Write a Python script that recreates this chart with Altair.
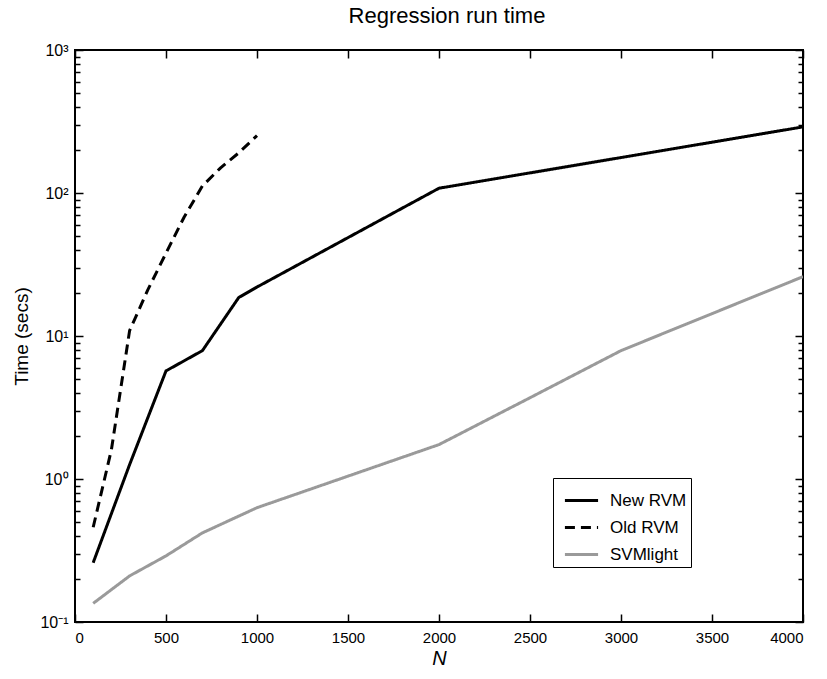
import altair as alt
import pandas as pd

# ---------------- data ----------------
series_names = ["New RVM", "Old RVM", "SVMlight"]

n_new = [100, 300, 500, 700, 900, 1000, 2000, 4000]
t_new = [0.26, 1.26, 5.7, 7.9, 18.6, 22, 108, 290]

n_old = [100, 200, 300, 400, 500, 600, 700, 800, 900, 1000]
t_old = [0.46, 1.6, 10.9, 21, 38, 68, 112, 150, 191, 252]

n_svm = [100, 300, 500, 700, 1000, 2000, 2500, 3000, 4000]
t_svm = [0.135, 0.21, 0.29, 0.42, 0.63, 1.74, 3.7, 7.9, 26]

x_ticks = [0, 500, 1000, 1500, 2000, 2500, 3000, 3500, 4000]
y_major = [0.1, 1, 10, 100, 1000]
y_major_labels = ["10⁻¹", "10⁰", "10¹", "10²", "10³"]
y_minor = [m * 10 ** k for k in range(-1, 3) for m in range(2, 10)]

# ---------------- table ----------------
rows = []
for name, ns, ts in zip(series_names, [n_new, n_old, n_svm], [t_new, t_old, t_svm]):
    for i, (n, t) in enumerate(zip(ns, ts)):
        rows.append({"N": n, "time": t, "series": name, "order": i})
df = pd.DataFrame(rows)

label_expr = " : ".join(
    f"datum.value == {v} ? '{l}'" for v, l in zip(y_major, y_major_labels)
) + " : ''"

FONT = "Liberation Sans"

xs = alt.Scale(domain=[0, 4000], nice=False, zero=False)
ys = alt.Scale(type="log", domain=[0.1, 1000], nice=False)

MAJ = {"expr": "-8"}
MIN = {"expr": "-5"}

base = alt.Chart(df)

legend = alt.Legend(title=None, labelExpr="datum.label + '\u00a0\u00a0\u00a0\u00a0\u00a0\u00a0\u00a0\u00a0'")

lines = base.mark_line(clip=True, strokeCap="butt", strokeJoin="round").encode(
    x=alt.X("N:Q", scale=xs,
            axis=alt.Axis(orient="bottom", values=x_ticks, tickSize=MAJ,
                          labelPadding=16, title="N", titleFontStyle="italic",
                          titleFontSize=20, titlePadding=3, format="d")),
    y=alt.Y("time:Q", scale=ys,
            axis=alt.Axis(orient="left", values=y_major, tickSize=MAJ,
                          labelExpr=label_expr, labelPadding=15, labelFontSize=16,
                          title="Time (secs)", titleFontSize=19, titlePadding=8)),
    color=alt.Color("series:N",
                    scale=alt.Scale(domain=series_names, range=["black", "black", "#9a9a9a"]),
                    legend=legend),
    strokeDash=alt.StrokeDash("series:N",
                              scale=alt.Scale(domain=series_names, range=[[1, 0], [10, 6], [1, 0]]),
                              legend=legend),
    strokeWidth=alt.StrokeWidth("series:N",
                                scale=alt.Scale(domain=series_names, range=[3, 3, 2]),
                                legend=legend),
    order="order:Q",
    detail="series:N",
)

ghost1 = base.mark_point(opacity=0).encode(
    x=alt.X("N:Q", scale=xs,
            axis=alt.Axis(orient="top", values=x_ticks, tickSize=MAJ, labels=False, title=None)),
    y=alt.Y("time:Q", scale=ys,
            axis=alt.Axis(orient="left", values=y_minor, tickSize=MIN, labels=False, title=None)),
)
ghost2 = base.mark_point(opacity=0).encode(
    x=alt.X("N:Q", scale=xs, axis=None),
    y=alt.Y("time:Q", scale=ys,
            axis=alt.Axis(orient="right", values=y_major, tickSize=MAJ, labels=False, title=None)),
)
ghost3 = base.mark_point(opacity=0).encode(
    x=alt.X("N:Q", scale=xs, axis=None),
    y=alt.Y("time:Q", scale=ys,
            axis=alt.Axis(orient="right", values=y_minor, tickSize=MIN, labels=False, title=None)),
)

chart = (
    alt.layer(lines, ghost1, ghost2, ghost3)
    .resolve_axis(x="independent", y="independent")
    .resolve_scale(x="shared", y="shared")
    .properties(
        width=728, height=572,
        title=alt.Title("Regression run time", fontSize=22, font=FONT,
                        fontWeight="normal", color="black", offset=14, anchor="middle", dx=8),
        autosize=alt.AutoSizeParams(type="none"),
        padding={"left": 75, "top": 50, "right": 24, "bottom": 57},
    )
    .configure_view(stroke="black", strokeWidth=2)
    .configure_axis(
        grid=False, domain=False, labelFont=FONT, labelFontSize=15, labelColor="black",
        titleFont=FONT, titleColor="black", titleFontWeight="normal",
        tickColor="black", tickWidth=1.5,
    )
    .configure_legend(
        orient="none", legendX=478, legendY=428,
        strokeColor="black", fillColor="white", padding=4,
        labelFont=FONT, labelFontSize=17, labelColor="black",
        symbolType="stroke", symbolSize=1100, rowPadding=-9, labelOffset=10,
        symbolOffset=6,
    )
)

chart.save("out.html", embed_options={"renderer": "svg", "actions": False})
